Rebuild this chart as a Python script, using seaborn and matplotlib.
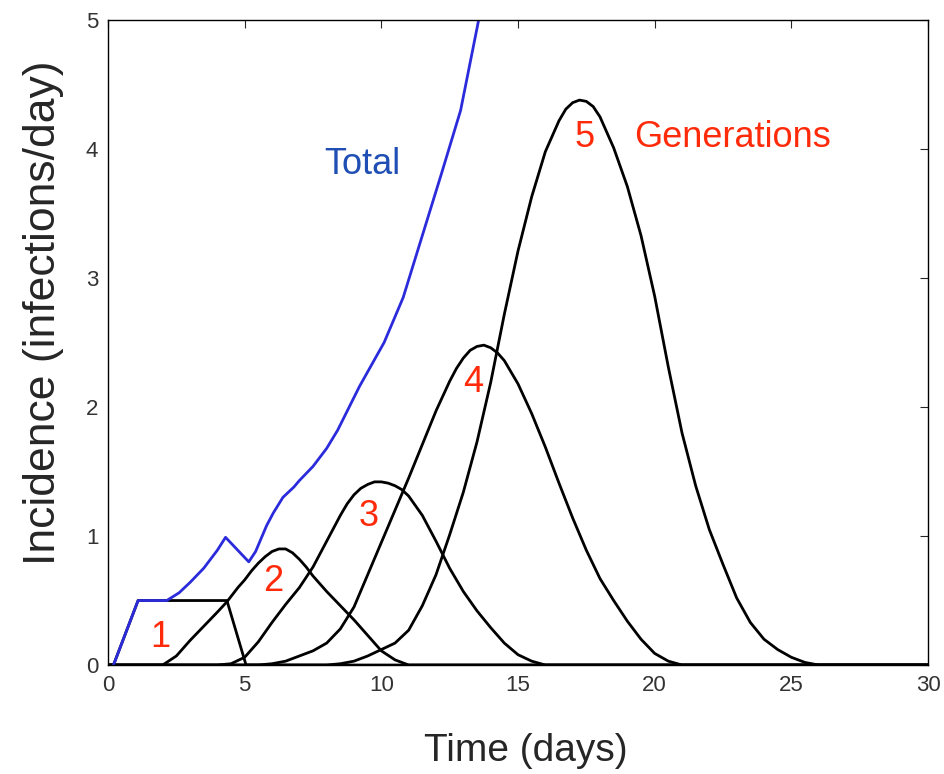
import numpy as np
import pandas as pd
import seaborn as sns
import matplotlib
matplotlib.use("Agg")
import matplotlib.pyplot as plt

# --- values ---
t_gen1 = [0, 0.2, 1.1, 4.35, 5.05, 30]
y_gen1 = [0, 0, 0.5, 0.5, 0, 0]

t_gen2 = [0, 2.0, 2.5, 3.0, 3.5, 4.0, 4.35, 4.75, 5.0, 5.25, 5.5, 5.75, 6.0, 6.25,
          6.5, 6.75, 7.0, 7.25, 7.5, 8.0, 8.5, 9.0, 9.5, 10.0, 10.5, 11.0, 30]
y_gen2 = [0, 0, 0.07, 0.19, 0.3, 0.41, 0.49, 0.6, 0.66, 0.73, 0.79, 0.84, 0.88,
          0.9, 0.9, 0.87, 0.82, 0.76, 0.69, 0.57, 0.46, 0.35, 0.23, 0.11, 0.04, 0, 0]

t_gen3 = [0, 4.0, 4.5, 5.0, 5.5, 6.0, 6.5, 7.0, 7.5, 8.0, 8.5, 8.75, 9.0, 9.25,
          9.5, 9.75, 10.0, 10.25, 10.5, 10.75, 11.0, 11.5, 12.0, 12.5, 13.0, 13.5,
          14.0, 14.5, 15.0, 15.5, 16.0, 30]
y_gen3 = [0, 0, 0.01, 0.06, 0.18, 0.33, 0.47, 0.6, 0.76, 0.96, 1.16, 1.25, 1.32,
          1.37, 1.4, 1.42, 1.42, 1.41, 1.39, 1.36, 1.31, 1.16, 0.96, 0.75, 0.57,
          0.42, 0.29, 0.17, 0.08, 0.03, 0, 0]

t_gen4 = [0, 5.5, 6.0, 6.5, 7.0, 7.5, 8.0, 8.5, 9.0, 9.5, 10.0, 10.5, 11.0, 11.5,
          12.0, 12.5, 12.75, 13.0, 13.25, 13.5, 13.75, 14.0, 14.25, 14.5, 15.0,
          15.5, 16.0, 16.5, 17.0, 17.5, 18.0, 18.5, 19.0, 19.5, 20.0, 20.5, 21.0, 30]
y_gen4 = [0, 0, 0.01, 0.03, 0.07, 0.11, 0.17, 0.28, 0.45, 0.7, 0.95, 1.2, 1.45,
          1.71, 1.97, 2.2, 2.3, 2.38, 2.44, 2.47, 2.48, 2.46, 2.42, 2.36, 2.18,
          1.95, 1.69, 1.41, 1.14, 0.89, 0.67, 0.5, 0.34, 0.2, 0.09, 0.03, 0, 0]

t_gen5 = [0, 8.0, 8.5, 9.0, 9.5, 10.0, 10.5, 11.0, 11.5, 12.0, 12.5, 13.0, 13.5,
          14.0, 14.5, 15.0, 15.5, 16.0, 16.5, 16.75, 17.0, 17.25, 17.5, 17.75,
          18.0, 18.5, 19.0, 19.5, 20.0, 20.5, 21.0, 21.5, 22.0, 22.5, 23.0, 23.5,
          24.0, 24.5, 25.0, 25.5, 26.0, 30]
y_gen5 = [0, 0, 0.01, 0.03, 0.07, 0.12, 0.17, 0.27, 0.46, 0.7, 1.01, 1.34, 1.73,
          2.19, 2.72, 3.21, 3.63, 3.98, 4.22, 4.31, 4.36, 4.38, 4.37, 4.33,
          4.25, 4.01, 3.71, 3.33, 2.86, 2.31, 1.8, 1.39, 1.05, 0.78, 0.52, 0.33,
          0.2, 0.12, 0.06, 0.02, 0, 0]

t_total = [0.2, 1.1, 2.15, 2.6, 3.0, 3.5, 4.0, 4.3, 5.15, 5.4, 5.6, 5.8, 6.05, 6.4,
           6.8, 7.0, 7.5, 8.0, 8.4, 9.2, 10.1, 10.8, 11.5, 12.2, 12.9, 13.55, 13.9]
y_total = [0, 0.5, 0.5, 0.56, 0.64, 0.75, 0.89, 0.99, 0.8, 0.88, 0.98, 1.08, 1.18,
           1.3, 1.38, 1.43, 1.54, 1.68, 1.82, 2.16, 2.5, 2.85, 3.33, 3.81, 4.3,
           4.99, 5.4]

x_ticks = [0, 5, 10, 15, 20, 25, 30]
y_ticks = [0, 1, 2, 3, 4, 5]

generations = [(t_gen1, y_gen1), (t_gen2, y_gen2), (t_gen3, y_gen3),
               (t_gen4, y_gen4), (t_gen5, y_gen5)]

sns.set_style("white")
plt.rcParams['font.family'] = ['Liberation Sans', 'DejaVu Sans']

fig, ax = plt.subplots(figsize=(9.45, 7.74), dpi=100)
fig.subplots_adjust(left=0.1143, right=0.982, top=0.974, bottom=0.1408)

for t, y in generations:
    df = pd.DataFrame({"t": t, "y": y})
    sns.lineplot(data=df, x="t", y="y", color="black", lw=2.0, ax=ax,
                 estimator=None, sort=False)

df_total = pd.DataFrame({"t": t_total, "y": y_total})
sns.lineplot(data=df_total, x="t", y="y", color="#2b2bdc", lw=2.0, ax=ax,
             estimator=None, sort=False)

ax.set_xlim(0, 30)
ax.set_ylim(0, 5)
ax.set_xticks(x_ticks)
ax.set_yticks(y_ticks)
ax.tick_params(direction="in", top=True, right=True, length=6, width=0.8,
               labelsize=16, labelcolor="#333333", pad=7)
for s in ax.spines.values():
    s.set_color("black")
    s.set_linewidth(1.0)

ax.set_xlabel("Time (days)", fontsize=28)
ax.xaxis.set_label_coords(0.51, -0.105)
ax.set_ylabel("Incidence (infections/day)", fontsize=32)
ax.yaxis.set_label_coords(-0.054, 0.547)

red = "#ff2a0a"
ax.text(1.9, 0.21, "1", color=red, fontsize=26, ha="center", va="center")
ax.text(6.04, 0.65, "2", color=red, fontsize=26, ha="center", va="center")
ax.text(9.55, 1.15, "3", color=red, fontsize=26, ha="center", va="center")
ax.text(13.36, 2.19, "4", color=red, fontsize=26, ha="center", va="center")
ax.text(17.45, 4.09, "5", color=red, fontsize=26, ha="center", va="center")
ax.text(22.83, 4.09, "Generations", color=red, fontsize=26, ha="center", va="center")
ax.text(9.29, 3.88, "Total", color="#1f4fb4", fontsize=26, ha="center", va="center")

fig.savefig("out.png", dpi=100)
